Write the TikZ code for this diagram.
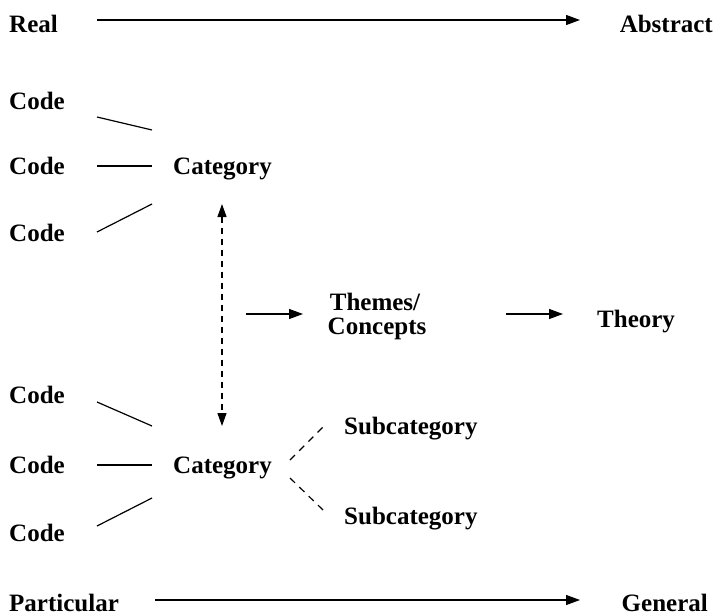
\documentclass[tikz,border=0pt]{standalone}
\usepackage{fontspec}
\setmainfont{Liberation Serif}
\usetikzlibrary{arrows.meta}
\begin{document}
\begin{tikzpicture}[x=1pt,y=-1pt,
  lbl/.style={font=\fontsize{25}{28}\selectfont\bfseries, inner sep=0pt},
  ln/.style={line width=1.2pt},
  arr/.style={line width=1.2pt, -{Triangle[length=14pt,width=10pt]}},
  darr/.style={line width=1.2pt, dash pattern=on 6pt off 5pt, {Triangle[length=13pt,width=9pt]}-{Triangle[length=13pt,width=9pt]}},
  dln/.style={line width=1.2pt, dash pattern=on 7pt off 6pt}]
\useasboundingbox (0,0) rectangle (717,615);
% top / bottom axes
\node[lbl, anchor=base west] (real) at (9,33) {Real};
\node[lbl, anchor=base east] (abstract) at (713,33) {Abstract};
\node[lbl, anchor=base west] (particular) at (9,611) {Particular};
\node[lbl, anchor=base east] (general) at (708,611) {General};
\coordinate (ra1) at (97,20); \coordinate (ra2) at (580,20);
\coordinate (pg1) at (155,600); \coordinate (pg2) at (580,600);
\draw[arr] (ra1) -- (ra2);
\draw[arr] (pg1) -- (pg2);
% upper cluster
\node[lbl, anchor=base west] (c1) at (9,110) {Code};
\node[lbl, anchor=base west] (c2) at (9,174) {Code};
\node[lbl, anchor=base west] (c3) at (9,241) {Code};
\node[lbl, anchor=base west] (cat1) at (173,174) {Category};
\coordinate (a1) at (97,117); \coordinate (b1) at (152,130);
\coordinate (a2) at (97,166); \coordinate (b2) at (152,166);
\coordinate (a3) at (97,232); \coordinate (b3) at (152,204);
\draw[ln] (a1) -- (b1);
\draw[ln] (a2) -- (b2);
\draw[ln] (a3) -- (b3);
% lower cluster
\node[lbl, anchor=base west] (c4) at (9,403) {Code};
\node[lbl, anchor=base west] (c5) at (9,473) {Code};
\node[lbl, anchor=base west] (c6) at (9,541) {Code};
\node[lbl, anchor=base west] (cat2) at (173,473) {Category};
\coordinate (a4) at (97,402); \coordinate (b4) at (152,426);
\coordinate (a5) at (97,465); \coordinate (b5) at (152,465);
\coordinate (a6) at (97,526); \coordinate (b6) at (152,498);
\draw[ln] (a4) -- (b4);
\draw[ln] (a5) -- (b5);
\draw[ln] (a6) -- (b6);
% vertical dashed
\coordinate (v1) at (222,204); \coordinate (v2) at (222,426);
\draw[darr] (v1) -- (v2);
% themes
\node[lbl, anchor=base] (themes) at (375,310) {Themes/};
\node[lbl, anchor=base] (concepts) at (377,334) {Concepts};
\node[lbl, anchor=base west] (theory) at (597,327) {Theory};
\coordinate (t1) at (246,314); \coordinate (t2) at (303,314);
\coordinate (t3) at (506,314); \coordinate (t4) at (563,314);
\draw[arr] (t1) -- (t2);
\draw[arr] (t3) -- (t4);
% subcategories
\node[lbl, anchor=base west] (s1) at (344,434) {Subcategory};
\node[lbl, anchor=base west] (s2) at (344,524) {Subcategory};
\coordinate (d1) at (290,460); \coordinate (d2) at (323,427);
\coordinate (d3) at (290,478); \coordinate (d4) at (323,510);
\draw[dln] (d1) -- (d2);
\draw[dln] (d3) -- (d4);
\end{tikzpicture}
\end{document}
